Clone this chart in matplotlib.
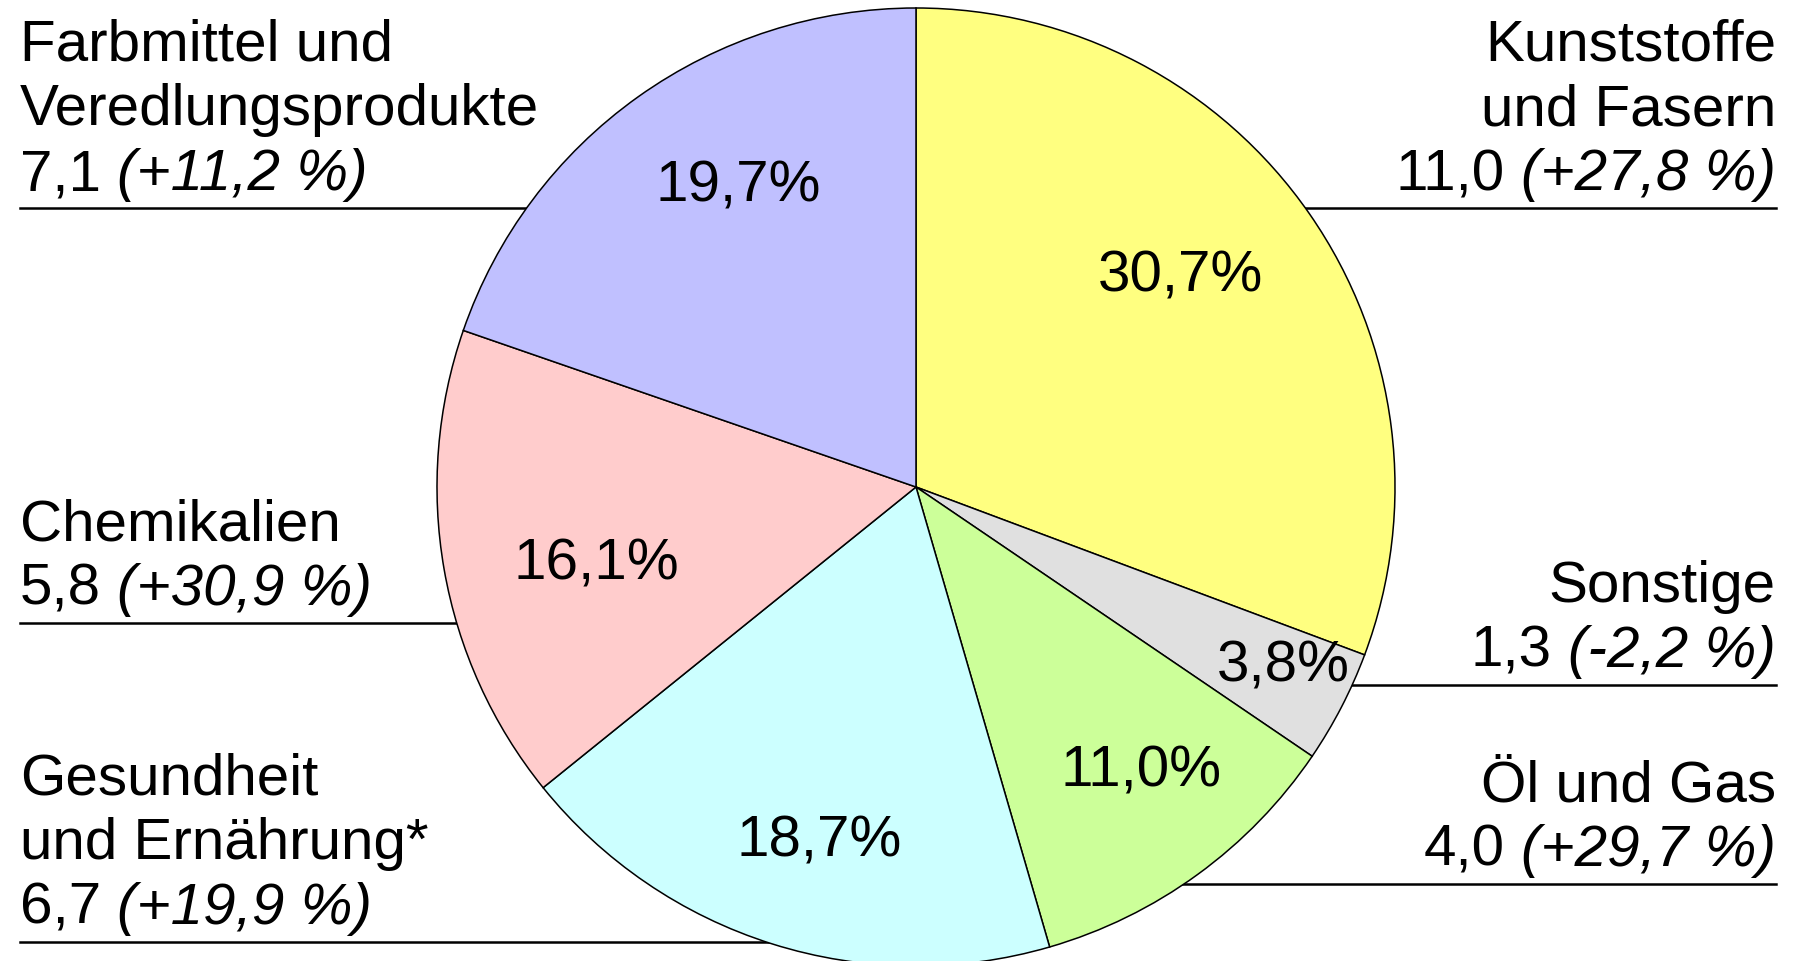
import numpy as np
import matplotlib
matplotlib.use("Agg")
import matplotlib.pyplot as plt

plt.rcParams['font.family'] = ['Liberation Sans', 'DejaVu Sans']

# data (clockwise from the top)
names = ["Kunststoffe\nund Fasern", "Sonstige", "Öl und Gas",
         "Gesundheit\nund Ernährung*", "Chemikalien",
         "Farbmittel und\nVeredlungsprodukte"]
sales = [11.0, 1.3, 4.0, 6.7, 5.8, 7.1]
change = [27.8, -2.2, 29.7, 19.9, 30.9, 11.2]
shares = [30.7, 3.8, 11.0, 18.7, 16.1, 19.7]
colors = ['#FFFF80', '#E0E0E0', '#CCFF99', '#CCFFFF', '#FFCCCC', '#C0C0FF']

# layout (pixels, measured from the top of the picture)
W, H = 1793, 962
side = ['right', 'right', 'right', 'left', 'left', 'left']
rule_y = [209, 686, 885, 943, 624, 209]
x_left, x_right = 20, 1776
cx, cy, rad = 916, 488, 479
pct_dist = [0.715, 0.848, 0.745, 0.752, 0.683, 0.741]
pct_nudge = [4.6, 2.2, 3.0, 1.9, 2.6, -5.4]
fs = 42
em = fs * 100 / 72
lh = 64.6


def de(v, fmt):
    return format(v, fmt).replace('.', ',')


fig = plt.figure(figsize=(W / 100, H / 100), dpi=100)
ax = fig.add_axes([0, 0, 1, 1])

wedges, _ = ax.pie(shares, colors=colors, startangle=90, counterclock=False,
                   center=(cx, H - cy), radius=rad,
                   wedgeprops=dict(edgecolor='black', linewidth=1.1, zorder=2))
ax.set_xlim(0, W)
ax.set_ylim(0, H)
ax.set_aspect('equal')
ax.axis('off')

# percentage labels inside the wedges
for w, s, d, n in zip(wedges, shares, pct_dist, pct_nudge):
    a = np.deg2rad((w.theta1 + w.theta2) / 2 + n)
    x = cx + d * rad * np.cos(a)
    y = H - cy + d * rad * np.sin(a)
    ax.text(x, y - 0.36 * em, de(s, '.1f') + '%', fontsize=fs,
            ha='center', va='baseline', zorder=3)

fig.canvas.draw()
renderer = fig.canvas.get_renderer()
space = 0.278 * em

# outside labels with rules
for nm, v, c, sd, ry in zip(names, sales, change, side, rule_y):
    y_rule = H - ry
    if sd == 'left':
        ax.plot([x_left, cx], [y_rule, y_rule], color='black', lw=1.8, zorder=1)
    else:
        ax.plot([cx, x_right], [y_rule, y_rule], color='black', lw=1.8, zorder=1)
    base = y_rule + 19
    val = de(v, '.1f')
    chg = '(' + de(c, '+.1f') + ' %)'
    if sd == 'left':
        t1 = ax.text(x_left, base, val, fontsize=fs, ha='left', va='baseline')
        x1 = t1.get_window_extent(renderer).x1
        ax.text(x1 + space, base, chg, fontsize=fs, style='italic',
                ha='left', va='baseline')
    else:
        t2 = ax.text(x_right, base, chg, fontsize=fs, style='italic',
                     ha='right', va='baseline')
        x0 = t2.get_window_extent(renderer).x0
        ax.text(x0 - space, base, val, fontsize=fs, ha='right', va='baseline')
    lines = nm.split('\n')
    for k, ln in enumerate(reversed(lines)):
        ax.text(x_left if sd == 'left' else x_right, base + (k + 1) * lh, ln,
                fontsize=fs, ha=sd, va='baseline')

fig.savefig('out.png', dpi=100)
